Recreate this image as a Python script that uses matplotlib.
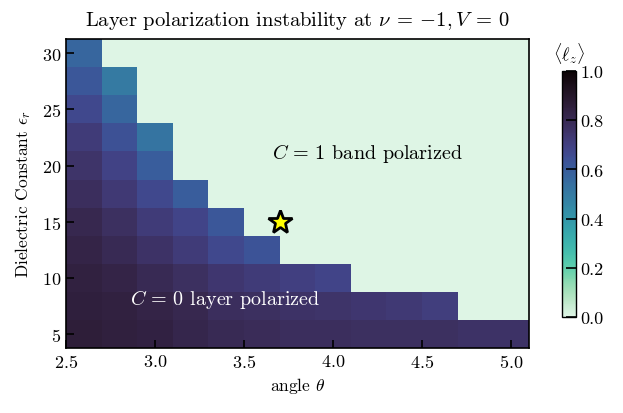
import numpy as np
import matplotlib
matplotlib.use("Agg")
import matplotlib.pyplot as plt
import seaborn as sns

plt.rcParams['font.family'] = 'serif'
plt.rcParams['font.serif'] = ['cmr10', 'DejaVu Serif']
plt.rcParams['mathtext.fontset'] = 'cm'
plt.rcParams['axes.formatter.use_mathtext'] = True
plt.rcParams['font.size'] = 12.5

# data
angles = [2.6, 2.8, 3.0, 3.2, 3.4, 3.6, 3.8, 4.0, 4.2, 4.4, 4.6, 4.8, 5.0]
eps = [5.0, 7.5, 10.0, 12.5, 15.0, 17.5, 20.0, 22.5, 25.0, 27.5, 30.0]
lz_eps5 = [0.86, 0.85, 0.84, 0.82, 0.80, 0.79, 0.78, 0.78, 0.77, 0.77, 0.77, 0.76, 0.76]
lz_eps7_5 = [0.855, 0.845, 0.83, 0.81, 0.78, 0.77, 0.76, 0.75, 0.74, 0.73, 0.71, 0, 0]
lz_eps10 = [0.845, 0.83, 0.80, 0.77, 0.74, 0.72, 0.70, 0.68, 0, 0, 0, 0, 0]
lz_eps12_5 = [0.83, 0.80, 0.76, 0.72, 0.67, 0.63, 0, 0, 0, 0, 0, 0, 0]
lz_eps15 = [0.81, 0.77, 0.72, 0.68, 0.62, 0, 0, 0, 0, 0, 0, 0, 0]
lz_eps17_5 = [0.78, 0.73, 0.67, 0.60, 0, 0, 0, 0, 0, 0, 0, 0, 0]
lz_eps20 = [0.75, 0.69, 0.60, 0, 0, 0, 0, 0, 0, 0, 0, 0, 0]
lz_eps22_5 = [0.72, 0.64, 0.52, 0, 0, 0, 0, 0, 0, 0, 0, 0, 0]
lz_eps25 = [0.67, 0.57, 0, 0, 0, 0, 0, 0, 0, 0, 0, 0, 0]
lz_eps27_5 = [0.62, 0.50, 0, 0, 0, 0, 0, 0, 0, 0, 0, 0, 0]
lz_eps30 = [0.57, 0, 0, 0, 0, 0, 0, 0, 0, 0, 0, 0, 0]
star_angle, star_eps = 3.7, 15.0

Z = np.array([lz_eps5, lz_eps7_5, lz_eps10, lz_eps12_5, lz_eps15, lz_eps17_5,
              lz_eps20, lz_eps22_5, lz_eps25, lz_eps27_5, lz_eps30])

cmap = sns.color_palette("mako_r", as_cmap=True)

fig = plt.figure(figsize=(6.23, 4.14), dpi=100)
ax = fig.add_axes([0.106, 0.157, 0.743, 0.746])
cax = fig.add_axes([0.902, 0.232, 0.022, 0.594])

mesh = ax.pcolormesh(angles, eps, Z, cmap=cmap, vmin=0, vmax=1, shading='nearest')
ax.plot([star_angle], [star_eps], marker='*', markersize=18, color='yellow',
        markeredgecolor='black', markeredgewidth=2, linestyle='none')

ax.text(3.655, 21.2, r'$C\,=\,1$ band polarized', color='black', fontsize=14.5, va='center')
ax.text(2.86, 8.2, r'$C\,=\,0$ layer polarized', color='white', fontsize=14.5, va='center')

ax.set_xlim(2.5, 5.1)
ax.set_ylim(3.75, 31.25)
ax.set_xticks([2.5, 3.0, 3.5, 4.0, 4.5, 5.0])
ax.set_yticks([5, 10, 15, 20, 25, 30])
ax.tick_params(direction='in', length=6, width=1.2, labelsize=13)
ax.set_xlabel(r'angle $\theta$')
ax.set_ylabel(r'Dielectric Constant $\epsilon_r$', labelpad=6)
ax.set_title(r'Layer polarization instability at $\nu\:=\:{-1}, V\:=\:0$',
             fontsize=14.8, pad=10)
for s in ax.spines.values():
    s.set_linewidth(1.2)

cb = fig.colorbar(mesh, cax=cax)
cb.set_ticks([0, 0.2, 0.4, 0.6, 0.8, 1.0])
cb.ax.yaxis.set_major_formatter(matplotlib.ticker.FormatStrFormatter('%.1f'))
cb.ax.tick_params(direction='in', length=7, width=1.2, labelsize=13)
cb.outline.set_linewidth(1.0)
cax.set_title(r'$\langle \ell_z \rangle$', fontsize=13, pad=8)

fig.savefig('out.png', dpi=100)
